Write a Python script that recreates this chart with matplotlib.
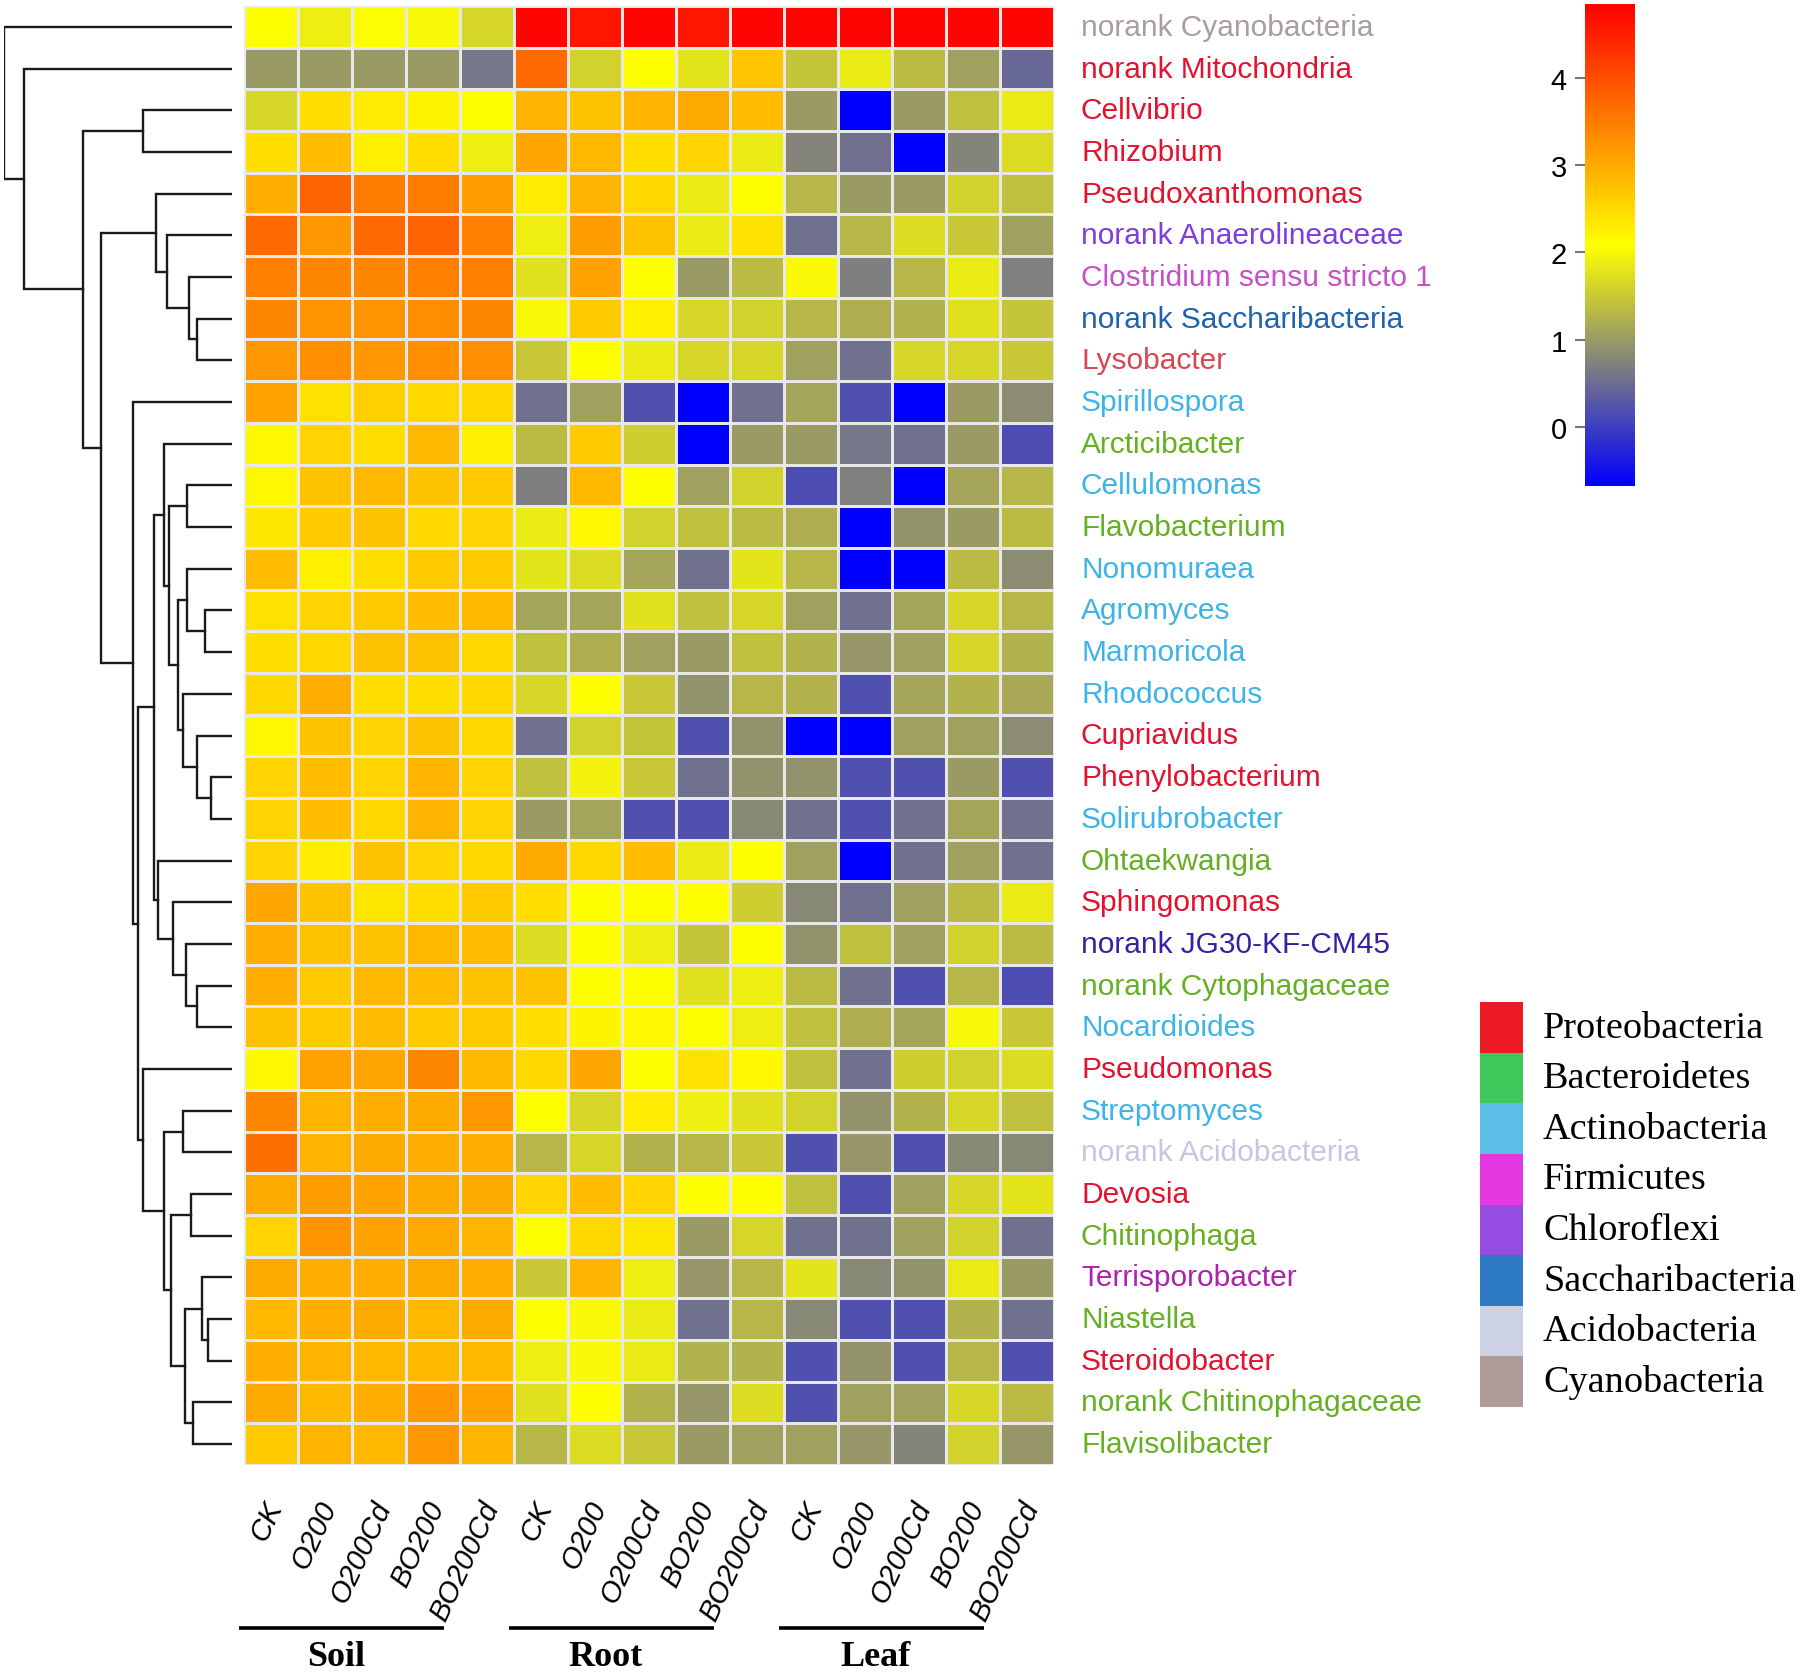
"""
Heatmap of genus abundance (log scale) across soil, root and leaf samples,
with row dendrogram, phylum-coloured labels and phylum legend.
"""

import numpy as np
import matplotlib

matplotlib.use("Agg")
import matplotlib.pyplot as plt
from matplotlib.colors import LinearSegmentedColormap

plt.rcParams["font.family"] = ["Liberation Sans", "DejaVu Sans"]

# ---- data -----------------------------------------------------------------
genera = [
    "norank Cyanobacteria", "norank Mitochondria", "Cellvibrio", "Rhizobium",
    "Pseudoxanthomonas", "norank Anaerolineaceae", "Clostridium sensu stricto 1",
    "norank Saccharibacteria", "Lysobacter", "Spirillospora", "Arcticibacter",
    "Cellulomonas", "Flavobacterium", "Nonomuraea", "Agromyces", "Marmoricola",
    "Rhodococcus", "Cupriavidus", "Phenylobacterium", "Solirubrobacter",
    "Ohtaekwangia", "Sphingomonas", "norank JG30-KF-CM45", "norank Cytophagaceae",
    "Nocardioides", "Pseudomonas", "Streptomyces", "norank Acidobacteria",
    "Devosia", "Chitinophaga", "Terrisporobacter", "Niastella", "Steroidobacter",
    "norank Chitinophagaceae", "Flavisolibacter",
]

label_colors = [
    "#a99d9d", "#e3122f", "#e3122f", "#e3122f", "#e3122f", "#7d3de2", "#c94ec9",
    "#1f62ad", "#d94650", "#3db4e8", "#64b021", "#3db4e8", "#64b021", "#3db4e8",
    "#3db4e8", "#3db4e8", "#3db4e8", "#e3122f", "#e3122f", "#3db4e8", "#64b021",
    "#e3122f", "#3a1fa6", "#64b021", "#3db4e8", "#e3122f", "#3db4e8", "#c6c6e2",
    "#e3122f", "#64b021", "#b021b0", "#64b021", "#e3122f", "#64b021", "#64b021",
]

treatments = ["CK", "O200", "O200Cd", "BO200", "BO200Cd"]
compartments = ["Soil", "Root", "Leaf"]

soil_vals = [
    [2.1, 1.9, 2.05, 2.0, 1.65], [1.0, 1.0, 1.0, 1.0, 0.6],
    [1.65, 2.45, 2.3, 2.2, 2.1], [2.45, 2.8, 2.25, 2.45, 1.9],
    [2.95, 3.75, 3.5, 3.5, 3.15], [3.7, 3.2, 3.7, 3.75, 3.45],
    [3.45, 3.4, 3.4, 3.45, 3.45], [3.4, 3.25, 3.25, 3.3, 3.4],
    [3.2, 3.3, 3.2, 3.3, 3.3], [3.1, 2.4, 2.6, 2.5, 2.5],
    [2.15, 2.55, 2.45, 2.85, 2.25], [2.15, 2.75, 2.85, 2.75, 2.65],
    [2.35, 2.65, 2.75, 2.5, 2.55], [2.8, 2.25, 2.45, 2.65, 2.65],
    [2.4, 2.55, 2.65, 2.8, 2.85], [2.45, 2.5, 2.75, 2.75, 2.5],
    [2.5, 2.95, 2.45, 2.45, 2.5], [2.15, 2.75, 2.55, 2.75, 2.5],
    [2.55, 2.8, 2.55, 2.9, 2.55], [2.55, 2.8, 2.5, 2.9, 2.55],
    [2.55, 2.3, 2.75, 2.55, 2.5], [3.05, 2.75, 2.35, 2.45, 2.65],
    [2.95, 2.75, 2.75, 2.85, 2.8], [2.95, 2.65, 2.85, 2.8, 2.75],
    [2.75, 2.65, 2.8, 2.65, 2.65], [2.15, 3.1, 3.05, 3.4, 2.85],
    [3.4, 2.9, 2.95, 3.0, 3.2], [3.65, 2.9, 3.0, 2.95, 2.95],
    [3.0, 3.15, 3.1, 3.0, 3.0], [2.55, 3.25, 3.1, 3.0, 2.9],
    [3.0, 2.95, 2.95, 3.0, 2.95], [2.85, 2.95, 3.0, 2.85, 3.0],
    [2.95, 2.9, 2.85, 2.85, 2.85], [3.0, 2.85, 2.95, 3.2, 3.1],
    [2.65, 2.9, 2.85, 3.2, 2.9],
]

root_vals = [
    [4.8, 4.6, 4.8, 4.6, 4.8], [3.7, 1.6, 2.1, 1.8, 2.7],
    [2.9, 2.75, 2.9, 3.0, 2.8], [3.05, 2.85, 2.45, 2.55, 1.85],
    [2.3, 2.9, 2.5, 1.85, 2.1], [1.9, 3.15, 2.75, 1.85, 2.4],
    [1.75, 3.1, 2.1, 1.0, 1.35], [2.0, 2.65, 2.25, 1.65, 1.6],
    [1.5, 2.1, 1.85, 1.65, 1.65], [0.55, 1.05, 0.2, -0.7, 0.55],
    [1.35, 2.65, 1.55, -0.7, 1.0], [0.7, 2.85, 2.1, 1.05, 1.6],
    [1.85, 2.15, 1.6, 1.4, 1.35], [1.8, 1.7, 1.1, 0.55, 1.8],
    [1.1, 1.1, 1.75, 1.4, 1.65], [1.4, 1.2, 1.05, 1.0, 1.4],
    [1.65, 2.1, 1.5, 0.9, 1.3], [0.55, 1.6, 1.45, 0.2, 0.9],
    [1.4, 1.95, 1.5, 0.55, 0.9], [1.0, 1.1, 0.2, 0.2, 0.8],
    [3.0, 2.5, 2.8, 1.85, 2.1], [2.45, 2.1, 2.1, 2.1, 1.55],
    [1.7, 2.1, 1.9, 1.45, 2.1], [2.75, 2.1, 2.1, 1.75, 1.9],
    [2.45, 2.2, 2.15, 2.1, 1.9], [2.5, 3.05, 2.1, 2.4, 2.15],
    [2.1, 1.65, 2.3, 1.9, 1.75], [1.3, 1.65, 1.25, 1.3, 1.5],
    [2.55, 2.8, 2.55, 2.1, 2.1], [2.1, 2.5, 2.35, 1.0, 1.65],
    [1.5, 2.9, 1.9, 0.95, 1.3], [2.1, 2.0, 1.85, 0.55, 1.3],
    [1.9, 2.0, 1.85, 1.25, 1.25], [1.75, 2.1, 1.25, 0.95, 1.7],
    [1.3, 1.7, 1.5, 1.0, 1.05],
]

leaf_vals = [
    [4.8, 4.8, 4.8, 4.8, 4.8], [1.45, 1.85, 1.35, 1.05, 0.45],
    [1.0, -0.7, 1.0, 1.4, 1.85], [0.75, 0.55, -0.7, 0.75, 1.7],
    [1.3, 1.0, 1.0, 1.6, 1.4], [0.55, 1.3, 1.7, 1.5, 1.05],
    [2.0, 0.7, 1.3, 1.85, 0.72], [1.3, 1.2, 1.25, 1.75, 1.45],
    [1.05, 0.55, 1.65, 1.65, 1.5], [1.1, 0.2, -0.7, 1.0, 0.85],
    [1.0, 0.6, 0.55, 1.0, 0.15], [0.15, 0.72, -0.7, 1.1, 1.3],
    [1.2, -0.7, 0.9, 1.0, 1.35], [1.3, -0.7, -0.7, 1.35, 0.85],
    [1.05, 0.55, 1.1, 1.65, 1.3], [1.25, 0.95, 1.05, 1.65, 1.25],
    [1.25, 0.2, 1.1, 1.25, 1.15], [-0.7, -0.7, 1.05, 1.05, 0.85],
    [0.9, 0.2, 0.2, 1.0, 0.2], [0.55, 0.2, 0.55, 1.1, 0.55],
    [1.05, -0.7, 0.55, 1.05, 0.55], [0.8, 0.55, 1.05, 1.35, 1.85],
    [0.9, 1.4, 1.05, 1.6, 1.35], [1.35, 0.55, 0.2, 1.3, 0.15],
    [1.4, 1.2, 1.1, 2.0, 1.5], [1.4, 0.55, 1.55, 1.6, 1.7],
    [1.6, 0.9, 1.25, 1.65, 1.4], [0.2, 0.95, 0.2, 0.8, 0.8],
    [1.4, 0.2, 1.05, 1.65, 1.8], [0.55, 0.55, 1.05, 1.6, 0.55],
    [1.8, 0.8, 0.9, 1.85, 1.0], [0.8, 0.2, 0.2, 1.25, 0.55],
    [0.2, 0.9, 0.2, 1.3, 0.2], [0.2, 1.05, 1.05, 1.65, 1.35],
    [1.05, 0.95, 0.75, 1.6, 0.95],
]

# row clustering: (child a, child b, height); ids >= 35 point to earlier merges
row_linkage = [
    (7, 8, 35), (6, 35, 43), (5, 36, 65), (4, 37, 76), (2, 3, 89),
    (18, 19, 21), (17, 40, 35), (16, 41, 49), (14, 15, 27), (13, 43, 45),
    (44, 42, 54), (11, 12, 45), (46, 45, 63), (10, 47, 68), (23, 24, 35),
    (22, 49, 46), (21, 50, 59), (20, 51, 74), (48, 52, 78), (26, 27, 49),
    (28, 29, 41), (31, 32, 24), (30, 56, 30), (33, 34, 39), (57, 58, 47),
    (55, 59, 61), (54, 60, 68), (25, 61, 89), (53, 62, 94), (9, 63, 99),
    (38, 64, 131), (39, 65, 149), (1, 66, 208), (0, 67, 228),
]

phyla = [
    "Proteobacteria", "Bacteroidetes", "Actinobacteria", "Firmicutes",
    "Chloroflexi", "Saccharibacteria", "Acidobacteria", "Cyanobacteria",
]
phyla_colors = [
    "#ed1c24", "#3dc95a", "#5bbee6", "#e337e0",
    "#964be1", "#2d78c3", "#cdd1e4", "#b09b9b",
]

cbar_ticks = [0, 1, 2, 3, 4]
vmin, vmax = -0.68, 4.85

# ---- figure ---------------------------------------------------------------
W, H = 1800, 1674
fig = plt.figure(figsize=(W / 100, H / 100), dpi=100)


def px_axes(x0, y0, x1, y1):
    """Axes from pixel box (top-left origin)."""
    return fig.add_axes([x0 / W, 1 - y1 / H, (x1 - x0) / W, (y1 - y0) / H])


matrix = np.hstack([np.array(soil_vals), np.array(root_vals), np.array(leaf_vals)])
n_rows, n_cols = matrix.shape

cmap = LinearSegmentedColormap.from_list(
    "bgyr", [(0.0, "#0000ff"), (0.25, "#808080"), (0.5, "#ffff00"), (1.0, "#ff0000")]
)

ax = px_axes(244, 7, 1054, 1466)
ax.pcolormesh(
    matrix, cmap=cmap, vmin=vmin, vmax=vmax, edgecolors="#e8e8e8", linewidth=0.9
)
ax.set_xlim(0, n_cols)
ax.set_ylim(n_rows, 0)
ax.set_xticks([])
ax.set_yticks([])
for s in ax.spines.values():
    s.set_visible(False)

# row labels
for i, (name, col) in enumerate(zip(genera, label_colors)):
    ax.text(n_cols + 0.5, i + 0.5, name, color=col, fontsize=21.5,
            ha="left", va="center", clip_on=False)

# column labels
col_names = treatments * len(compartments)
for j, name in enumerate(col_names):
    ax.text(j + 0.35, n_rows + 0.75, name, rotation=65, rotation_mode="anchor",
            ha="right", va="top", fontsize=21, style="italic", clip_on=False)

# compartment bars and names
for k, comp in enumerate(compartments):
    x0 = k * len(treatments) - 0.1
    x1 = (k + 1) * len(treatments) - 1.3
    ax.plot([x0, x1], [n_rows + 3.9, n_rows + 3.9], color="black", lw=2.6,
            clip_on=False, solid_capstyle="butt")
    ax.text((x0 + x1) / 2 - 0.1, n_rows + 4.6, comp, ha="center", va="center",
            fontsize=26, fontweight="bold", family="Liberation Serif",
            clip_on=False)

# ---- dendrogram -----------------------------------------------------------
dax = px_axes(4, 7, 232, 1466)
node_pos = {i: (i + 0.5, 0.0) for i in range(n_rows)}
for k, (a, b, h) in enumerate(row_linkage):
    ya, ha_ = node_pos[a]
    yb, hb = node_pos[b]
    dax.plot([ha_, h, h, hb], [ya, ya, yb, yb], color="#1a1a1a", lw=1.7,
             solid_joinstyle="miter")
    node_pos[n_rows + k] = ((ya + yb) / 2, h)
dax.set_xlim(row_linkage[-1][2], 0)
dax.set_ylim(n_rows, 0)
dax.axis("off")

# ---- colour bar -----------------------------------------------------------
cax = px_axes(1585, 5, 1635, 487)
sm = plt.cm.ScalarMappable(cmap=cmap, norm=plt.Normalize(vmin, vmax))
cb = fig.colorbar(sm, cax=cax, ticks=cbar_ticks)
cb.outline.set_visible(False)
cax.yaxis.set_ticks_position("left")
cax.tick_params(axis="y", length=7, width=1.5, color="#777777",
                labelsize=21, pad=6)

# ---- phylum legend --------------------------------------------------------
lax = px_axes(1480, 1003, 1800, 1408)
n_ph = len(phyla)
lax.bar(np.zeros(n_ph), np.ones(n_ph), bottom=np.arange(n_ph), width=43,
        align="edge", color=phyla_colors)
for i, name in enumerate(phyla):
    lax.text(63, i + 0.5, name, ha="left", va="center", fontsize=27.5,
             family="Liberation Serif")
lax.set_xlim(0, 320)
lax.set_ylim(n_ph, 0)
lax.axis("off")

fig.savefig("out.png", dpi=100, facecolor="white")
